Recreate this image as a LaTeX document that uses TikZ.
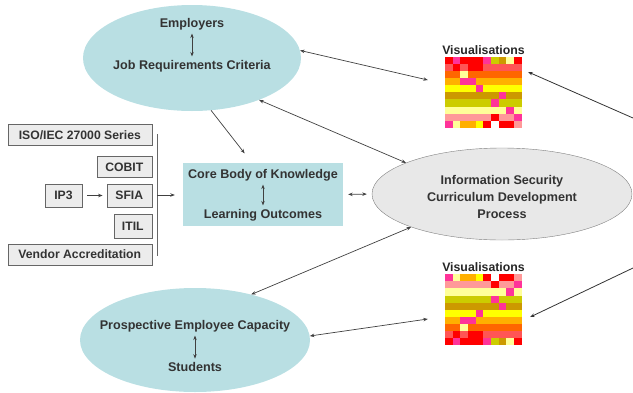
\documentclass[tikz,border=0pt]{standalone}
\usepackage{fontspec}
\setmainfont{Liberation Sans}
\usetikzlibrary{arrows.meta,shapes.geometric,positioning,calc}

\definecolor{tealbg}{HTML}{B9DFE3}
\definecolor{vR}{HTML}{FF0000}
\definecolor{vM}{HTML}{FF3399}
\definecolor{vC}{HTML}{FF5555}
\definecolor{vO}{HTML}{FF6600}
\definecolor{vG}{HTML}{FFB000}
\definecolor{vY}{HTML}{FFFF00}
\definecolor{vD}{HTML}{CC9900}
\definecolor{vV}{HTML}{CCCC00}
\definecolor{vL}{HTML}{FFFF99}
\definecolor{vP}{HTML}{FF9999}
\definecolor{vW}{HTML}{FFFFFF}

\begin{document}
\begin{tikzpicture}[x=1pt,y=-1pt,>={Stealth[length=4.5pt,width=3.5pt]},
txt/.style ={font=\bfseries\fontsize{12.6}{17}\selectfont, text=black!80, inner sep=1pt, align=center},
party/.style ={ellipse, fill=tealbg, minimum width=218pt, minimum height=106pt},
cbok/.style ={rectangle, fill=tealbg, minimum width=160pt, minimum height=63pt},
proc/.style ={ellipse, draw=black!50, fill=gray!18, minimum width=260pt, minimum height=92pt},
std/.style ={rectangle, draw=black!60, fill=gray!15, font=\bfseries\fontsize{12.2}{14}\selectfont, text=black!80, minimum height=21pt, inner xsep=3pt},
vgrid/.style ={rectangle, minimum width=77pt, minimum height=71pt, inner sep=0pt},
vlabel/.style ={font=\bfseries\fontsize{12.3}{14}\selectfont, text=black!85, inner sep=0.5pt},
link/.style ={<->, black!75, line width=0.7pt},
inlink/.style ={<->, black!75, line width=0.7pt, shorten <=2.5pt, shorten >=2.5pt}
]
\useasboundingbox (0,0) rectangle (633,392);

% stakeholders
\node[party] (emp) at (192,58) {};
\node[txt] (empT) at (192,24) {Employers};
\node[txt] (jobT) at (192,66) {Job Requirements Criteria};
\draw[inlink] (empT) -- (jobT);

\node[party, minimum width=230pt, minimum height=104pt] (stu) at (195,340) {};
\node[txt] (capT) at (195,326) {Prospective Employee Capacity};
\node[txt] (stuT) at (195,367) {Students};
\draw[inlink] (capT) -- (stuT);

% body of knowledge
\node[cbok] (cbok) at (263,194.5) {};
\node[txt] (cbokT) at (263,175) {Core Body of Knowledge};
\node[txt] (loT) at (263,215) {Learning Outcomes};
\draw[inlink] (cbokT) -- (loT);

\node[proc] (isc) at (502,194) {};
\node[txt] (iscT) at (502,197) {Information Security\\Curriculum Development\\Process};

% standards
\node[std, anchor=east, minimum width=144pt] (iso) at (152,135) {ISO/IEC 27000 Series};
\node[std, anchor=east, minimum width=55pt] (cobit) at (152,167) {COBIT};
\node[std, anchor=east, minimum width=45pt, minimum height=23pt] (sfia) at (152,195.5) {SFIA};
\node[std, minimum width=37pt, minimum height=23pt] (ip3) at (63.5,195.5) {IP3};
\node[std, anchor=east, minimum width=38pt, minimum height=24pt] (itil) at (152,226) {ITIL};
\node[std, anchor=east, minimum width=144pt] (vendor) at (152,254.5) {Vendor Accreditation};
\draw[->, black!75, line width=0.7pt, shorten <=5pt, shorten >=4pt] (ip3) -- (sfia);

\coordinate (brtop) at (157,134);
\coordinate (brbot) at (157,256);
\coordinate (brmid) at (157,195);
\draw[black!60, line width=0.6pt] (brtop) -- (brbot);
\draw[->, black!75, line width=0.7pt, shorten >=8pt] (brmid) -- (brmid -| cbok.west);

% visualisations
\node[vgrid] (vis1) at (483.5,92.5) {};
\node[vgrid] (vis2) at (483.5,309.5) {};
\node[vlabel, above=1pt of vis1] (vis1T) {Visualisations};
\node[vlabel, above=1pt of vis2] (vis2T) {Visualisations};
\foreach \row [count=\i] in {{R,M,R,R,R,M,V,D,L,R},{C,R,C,R,R,C,C,C,C,C},
  {O,O,L,O,O,O,O,O,O,O},{G,G,M,M,G,G,G,G,G,G},{Y,Y,Y,Y,M,Y,Y,Y,Y,Y},
  {D,D,D,D,D,D,D,M,D,D},{V,V,V,V,V,V,M,V,V,V},{L,L,L,L,L,L,L,L,M,L},
  {P,P,P,P,P,P,R,P,P,M},{M,L,G,G,Y,R,W,R,R,P}}{
  \foreach \c [count=\j] in \row {
    \fill[v\c] ($(vis1.north west)+({(\j-1)*7.7},{(\i-1)*7.1})$) rectangle ++(7.7,7.1);
    \fill[v\c] ($(vis2.south west)+({(\j-1)*7.7},{-\i*7.1})$) rectangle ++(7.7,7.1);
  }
}

% connectors
\coordinate (feed1) at (633,118);
\coordinate (feed2) at (633,268);
\draw[link] (emp.4) -- ([xshift=-17pt,yshift=12.5pt]vis1.west);
\draw[->, black!75, line width=0.7pt, shorten >=12pt] (emp.-70) -- ([xshift=-11pt]cbok.north);
\draw[link] (emp.-32) -- (isc.162);
\draw[link, shorten <=5pt, shorten >=5pt] (cbok.east) -- (isc.west);
\draw[link] (isc.200) -- (stu.39.5);
\draw[link] (stu.2) -- ([xshift=-17pt,yshift=-9.5pt]vis2.west);
\draw[->, black!80, line width=0.8pt] (feed1) -- ([xshift=6pt,yshift=20.5pt]vis1.east);
\draw[->, black!80, line width=0.8pt] (feed2) -- ([xshift=8pt,yshift=-7.5pt]vis2.east);

\end{tikzpicture}
\end{document}
